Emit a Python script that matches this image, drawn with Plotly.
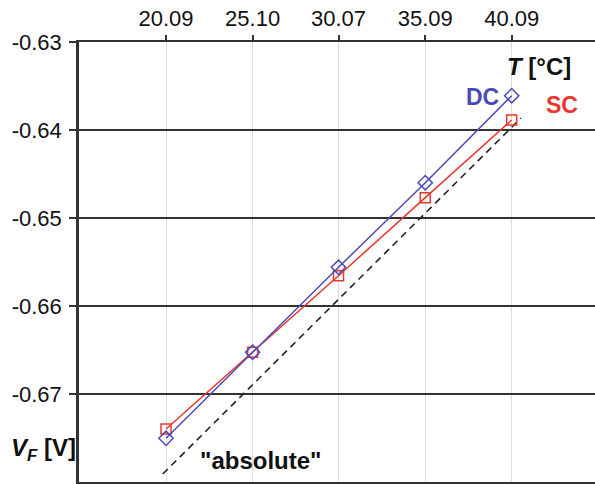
import plotly.graph_objects as go

temps = [20.09, 25.10, 30.07, 35.09, 40.09]
tick_labels = ["20.09", "25.10", "30.07", "35.09", "40.09"]
vf_dc = [-0.67503, -0.66526, -0.65560, -0.64599, -0.63610]
vf_sc = [-0.67398, -0.66526, -0.65656, -0.64769, -0.63886]
abs_t = [19.90, 40.63]
abs_vf = [-0.67909, -0.63864]
y_ticks = [-0.67, -0.66, -0.65, -0.64, -0.63]
y_tick_labels = ["-0.67", "-0.66", "-0.65", "-0.64", "-0.63"]

BLUE = "#4b4bb7"
RED = "#e8372e"
FONT = "Liberation Sans, Arial, sans-serif"

fig = go.Figure()
fig.add_trace(go.Scatter(x=abs_t, y=abs_vf, mode="lines",
                         line=dict(color="#222222", width=1.6, dash="7px,5px"),
                         showlegend=False, hoverinfo="skip"))
fig.add_trace(go.Scatter(x=temps, y=vf_sc, mode="lines+markers",
                         line=dict(color=RED, width=1.5),
                         marker=dict(symbol="square-open", size=10, color=RED, line=dict(width=1.5)),
                         showlegend=False))
fig.add_trace(go.Scatter(x=temps, y=vf_dc, mode="lines+markers",
                         line=dict(color=BLUE, width=1.5),
                         marker=dict(symbol="diamond-open", size=11, color=BLUE, line=dict(width=1.5)),
                         showlegend=False))

fig.update_layout(
    width=595, height=484,
    margin=dict(l=79, r=0, t=42, b=2),
    paper_bgcolor="white", plot_bgcolor="white",
    font=dict(family=FONT, size=22, color="#111111"),
    xaxis=dict(range=[15.055, 44.91], side="top", tickmode="array",
               tickvals=temps, ticktext=tick_labels,
               showgrid=True, gridcolor="#dddddd", gridwidth=1,
               ticks="outside", ticklen=5, tickwidth=1.5, tickcolor="#333333",
               showline=True, mirror=True, linecolor="#333333", linewidth=2,
               zeroline=False,
               tickfont=dict(size=22, color="#111111")),
    yaxis=dict(range=[-0.68, -0.63], tickmode="array",
               tickvals=y_ticks, ticktext=y_tick_labels,
               showgrid=True, gridcolor="#333333", gridwidth=2,
               ticks="outside", ticklen=7, tickwidth=1.5, tickcolor="#333333",
               showline=True, linecolor="#333333", linewidth=2.5,
               zeroline=False, ticklabelstandoff=3,
               tickfont=dict(size=22, color="#111111")),
)

annots = [
    dict(x=539, y=66, text="<b><i>T</i> [°C]</b>", color="#111111", size=24),
    dict(x=482, y=97, text="<b>DC</b>", color=BLUE, size=23),
    dict(x=562, y=105, text="<b>SC</b>", color=RED, size=23),
    dict(x=260, y=460, text="<b>\"absolute\"</b>", color="#111111", size=24),
]


def px_to_paper(px, py):
    return (px - 79) / (595 - 79), 1 - (py - 42) / (482 - 42)


for a in annots:
    xp, yp = px_to_paper(a["x"], a["y"])
    fig.add_annotation(x=xp, y=yp, xref="paper", yref="paper",
                       xanchor="center", yanchor="middle", showarrow=False,
                       text=a["text"], font=dict(family=FONT, size=a["size"], color=a["color"]))

xp, yp = px_to_paper(78, 449)
fig.add_annotation(x=xp, y=yp, xref="paper", yref="paper", xanchor="right", yanchor="middle",
                   showarrow=False,
                   text="<b><i>V</i><sub><i>F</i></sub> [V]</b>",
                   font=dict(family=FONT, size=24, color="#111111"))

fig.write_html("out.html")
